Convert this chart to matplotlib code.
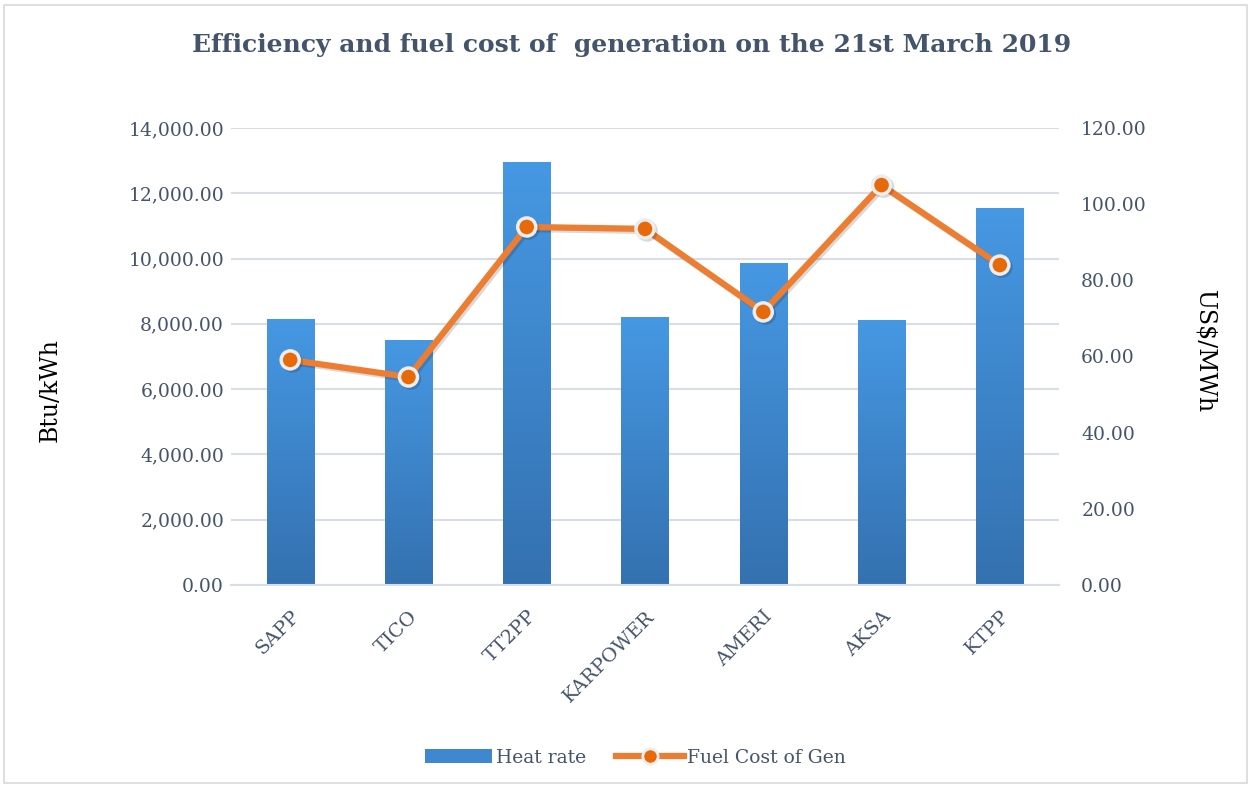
import matplotlib
matplotlib.use("Agg")
import matplotlib.pyplot as plt
import matplotlib.patheffects as pe
from matplotlib.patches import Rectangle
from matplotlib.lines import Line2D
from matplotlib.ticker import FuncFormatter
import numpy as np

plants = ["SAPP", "TICO", "TT2PP", "KARPOWER", "AMERI", "AKSA", "KTPP"]
heat_rate = [8120, 7480, 12930, 8180, 9860, 8090, 11520]
fuel_cost = [59.1, 54.6, 94.0, 93.5, 71.7, 105.0, 84.0]

text_col = "#44546A"
grid_col = "#D9DEE6"
plt.rcParams["font.family"] = ["DejaVu Serif"]

fig = plt.figure(figsize=(12.51, 7.85), dpi=100)
ax = fig.add_axes([0.1847, 0.2548, 0.6618, 0.5822])
ax2 = ax.twinx()

x = np.arange(len(plants))
width = 0.4
bars = ax.bar(x, heat_rate, width, color="#4396E0", zorder=2)

# vertical gradient on each bar (lighter top, darker bottom)
grad = np.linspace(0, 1, 256).reshape(-1, 1)
cmap = matplotlib.colors.LinearSegmentedColormap.from_list("g", ["#3471B0", "#4698E3"])
for b in bars:
    bx, bw, bh = b.get_x(), b.get_width(), b.get_height()
    ax.imshow(grad, extent=[bx, bx + bw, 0, bh], origin="lower", aspect="auto",
              cmap=cmap, zorder=2.1)

ax.set_xlim(-0.5, len(plants) - 0.5)
ax.set_ylim(0, 14000)
ax.set_yticks(np.arange(0, 14001, 2000))
ax.yaxis.set_major_formatter(FuncFormatter(lambda v, p: f"{v:,.2f}"))
ax.grid(axis="y", color=grid_col, linewidth=1.5, zorder=0)
ax.set_axisbelow(True)
ax.set_xticks(x)
ax.set_xticklabels(plants, rotation=45, ha="right", rotation_mode="anchor")
ax.tick_params(axis="both", length=0, labelsize=13.5, colors=text_col, pad=5)
ax.tick_params(axis="x", pad=16, labelsize=14)
for s in ["left", "right", "top"]:
    ax.spines[s].set_visible(False)
ax.spines["bottom"].set_color(grid_col)
ax.spines["bottom"].set_linewidth(1.5)
ax.set_ylabel("Btu/kWh", fontsize=17, color="black")
ax.yaxis.set_label_coords(-0.205, 0.427)

ax2.plot(x, fuel_cost, color="#ED7D31", linewidth=4.5, marker="o", markersize=13,
         markerfacecolor="#E66A0A", markeredgecolor="#EDEDED", markeredgewidth=2.5,
         path_effects=[pe.SimpleLineShadow(offset=(1.5, -1.5), alpha=0.15), pe.Normal()],
         zorder=3)
ax2.set_ylim(0, 120)
ax2.set_yticks(np.arange(0, 121, 20))
ax2.yaxis.set_major_formatter(FuncFormatter(lambda v, p: f"{v:.2f}"))
ax2.tick_params(axis="y", length=0, labelsize=13.5, colors=text_col, pad=16)
for s in ax2.spines.values():
    s.set_visible(False)
ax2.set_ylabel("US$/MWh", fontsize=17, color="black", rotation=270, va="center")
ax2.yaxis.set_label_coords(1.176, 0.51)

fig.text(0.505, 0.943, "Efficiency and fuel cost of  generation on the 21st March 2019",
         ha="center", va="center", fontsize=18, fontweight="bold", color=text_col)

handles = [
    Rectangle((0, 0), 1, 1, facecolor="#3F88D0", edgecolor="none"),
    Line2D([0], [0], color="#ED7D31", linewidth=4.5, marker="o", markersize=11,
           markerfacecolor="#E66A0A", markeredgecolor="#EDEDED", markeredgewidth=2),
]
fig.legend(handles, ["Heat rate", "Fuel Cost of Gen"], loc="center", ncol=2,
           bbox_to_anchor=(0.508, 0.035), frameon=False, fontsize=13.5,
           labelcolor=text_col, handlelength=3.6, handletextpad=0.2, columnspacing=1.6)

fig.patches.append(Rectangle((0.003, 0.003), 0.994, 0.99, transform=fig.transFigure,
                             fill=False, edgecolor="#D9D9D9", linewidth=1.2))

fig.savefig("out.png", dpi=100)
